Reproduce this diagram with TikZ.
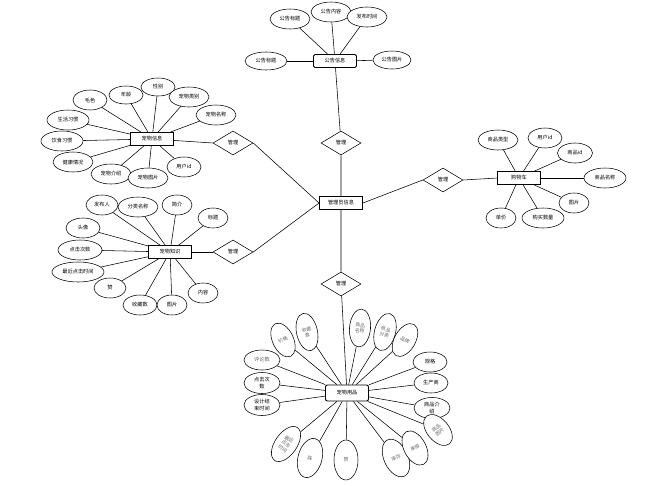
\documentclass[tikz,border=0pt]{standalone}
\usepackage{fontspec}
\newfontfamily\cjk{Noto Sans CJK SC}
\usetikzlibrary{shapes.geometric}
\tikzset{
  every node/.style={font=\cjk\fontsize{5.2}{6.2}\selectfont},
  attr/.style={ellipse, draw, line width=0.55pt, fill=white, inner sep=0pt, minimum width=40pt, minimum height=20pt, align=center},
  tall/.style={attr, minimum width=21pt, minimum height=36pt, text=black!60, font=\cjk\fontsize{4.8}{5.6}\selectfont},
  ent/.style={rectangle, draw, line width=0.9pt, fill=white, minimum width=43pt, minimum height=13pt, inner sep=1pt},
  rel/.style={diamond, draw, line width=0.55pt, fill=white, minimum width=40pt, minimum height=24pt, inner sep=0pt},
  lk/.style={line width=0.55pt}
}
\begin{document}
\begin{tikzpicture}[x=1pt,y=-1pt]
\useasboundingbox (0,0) rectangle (656,485);
% entities
\node[ent, rounded corners=1.5pt] (gg) at (335,61) {公告信息};
\node[ent] (gly) at (341,203) {管理员信息};
\node[ent] (cw) at (152,139) {宠物信息};
\node[ent] (zs) at (170,252) {宠物知识};
\node[ent] (gwc) at (519,178) {购物车};
\node[ent, rounded corners=2pt, minimum height=16pt] (yp) at (347,393) {宠物用品};
% relations
\node[rel] (r1) at (341,143) {管理};
\node[rel] (r2) at (233,143) {管理};
\node[rel] (r3) at (233,252) {管理};
\node[rel] (r4) at (443,180) {管理};
\node[rel] (r5) at (341,284) {管理};
\draw[lk] (gg) -- (r1) -- (gly);
\draw[lk] (cw) -- (r2.west);
\draw[lk] (r2.east) -- (gly.west);
\draw[lk] (zs) -- (r3.west);
\draw[lk] (r3.east) -- (gly.west);
\draw[lk] (gly.east) -- (r4.west);
\draw[lk] (r4.east) -- (gwc.west);
\draw[lk] (gly) -- (r5) -- (yp);
% 公告信息 attributes
\node[attr] (g1) at (290,19) {公告标题};
\node[attr] (g2) at (331,12) {公告内容};
\node[attr] (g3) at (367,17) {发布时间};
\node[attr, minimum width=42pt, minimum height=18pt] (g4) at (266,61) {公告标题};
\node[attr, minimum width=38pt, minimum height=18pt] (g5) at (392,60) {公告图片};
\foreach \a in {g1,g2,g3,g4,g5} \draw[lk] (gg) -- (\a);
% 宠物信息 attributes
\node[attr, minimum width=34pt] (c1) at (90,100) {毛色};
\node[attr, minimum width=34pt, minimum height=18pt] (c2) at (126,95) {年龄};
\node[attr, minimum width=34pt, minimum height=18pt] (c3) at (158,87) {性别};
\node[attr] (c4) at (189,97) {宠物类别};
\node[attr] (c5) at (216,115) {宠物名称};
\node[attr, minimum width=42pt] (c6) at (68,120) {生活习惯};
\node[attr, minimum width=42pt] (c7) at (62,141) {饮食习惯};
\node[attr] (c8) at (73,162) {健康情况};
\node[attr] (c9) at (111,174) {宠物介绍};
\node[attr] (c10) at (148,178) {宠物图片};
\node[attr, minimum width=34pt] (c11) at (184,167) {用户id};
\foreach \a in {c1,c2,c3,c4,c5,c6,c7,c8,c9,c10,c11} \draw[lk] (cw) -- (\a);
% 宠物知识 attributes
\node[attr, minimum width=32pt] (k1) at (102,205) {发布人};
\node[attr] (k2) at (138,207) {分类名称};
\node[attr, minimum width=30pt] (k3) at (177,205) {简介};
\node[attr, minimum width=30pt] (k4) at (213,218) {标题};
\node[attr, minimum width=34pt] (k5) at (83,228) {头像};
\node[attr, minimum width=44pt] (k6) at (80,250) {点击次数};
\node[attr, minimum width=52pt] (k7) at (78,272) {最近点击时间};
\node[attr, minimum width=32pt] (k8) at (110,288) {赞};
\node[attr, minimum width=34pt] (k9) at (140,305) {收藏数};
\node[attr, minimum width=30pt] (k10) at (172,305) {图片};
\node[attr, minimum width=30pt] (k11) at (203,293) {内容};
\foreach \a in {k1,k2,k3,k4,k5,k6,k7,k8,k9,k10,k11} \draw[lk] (zs) -- (\a);
% 购物车 attributes
\node[attr] (s1) at (498,140) {商品类型};
\node[attr, minimum width=34pt] (s2) at (545,138) {用户id};
\node[attr, minimum width=35pt] (s3) at (575,153) {商品id};
\node[attr, minimum width=42pt] (s4) at (605,178) {商品名称};
\node[attr, minimum width=30pt] (s5) at (574,203) {图片};
\node[attr, minimum width=30pt] (s6) at (501,218) {单价};
\node[attr, minimum width=42pt] (s7) at (543,218) {购买数量};
\foreach \a in {s1,s2,s3,s4,s5,s6,s7} \draw[lk] (gwc) -- (\a);
% 宠物用品 attributes
\node[tall, rotate=25] (p1) at (283,340) {价格};
\node[tall, rotate=12, minimum height=38pt] (p2) at (307,332) {收藏\\数};
\node[tall, rotate=-5, minimum height=38pt] (p3) at (360,328) {商品\\名称};
\node[tall, rotate=-15, minimum height=38pt] (p4) at (385,332) {商品\\分类};
\node[tall, rotate=-30] (p5) at (405,340) {品牌};
\node[attr, minimum width=36pt, text=black!60] (p6) at (262,360) {评论数};
\node[attr, minimum width=36pt, minimum height=21pt] (p7) at (262,383) {点击次\\数};
\node[attr, minimum width=36pt, minimum height=21pt] (p8) at (262,405) {设计结\\束时间};
\node[attr, minimum width=34pt] (p9) at (430,362) {规格};
\node[attr, minimum width=34pt] (p10) at (431,383) {生产商};
\node[attr, minimum width=36pt, minimum height=21pt] (p11) at (432,408) {商品介\\绍};
\node[tall, rotate=-35, minimum width=22pt, minimum height=40pt] (p12) at (286,444) {最近\\点击\\时间};
\node[tall, rotate=-15, minimum width=24pt, minimum height=40pt] (p13) at (310,458) {踩};
\node[tall, minimum width=24pt, minimum height=40pt] (p14) at (346,460) {赞};
\node[tall, rotate=25, minimum width=24pt, minimum height=40pt] (p15) at (396,458) {库存};
\node[tall, rotate=28, minimum width=22pt, minimum height=37pt] (p16) at (415,448) {单限};
\node[tall, rotate=40, minimum width=22pt, minimum height=36pt] (p17) at (438,430) {商品\\图片};
\foreach \a in {p1,p2,p3,p4,p5,p6,p7,p8,p9,p10,p11,p12,p13,p14,p15,p16,p17} \draw[lk] (yp) -- (\a);
\end{tikzpicture}
\end{document}
